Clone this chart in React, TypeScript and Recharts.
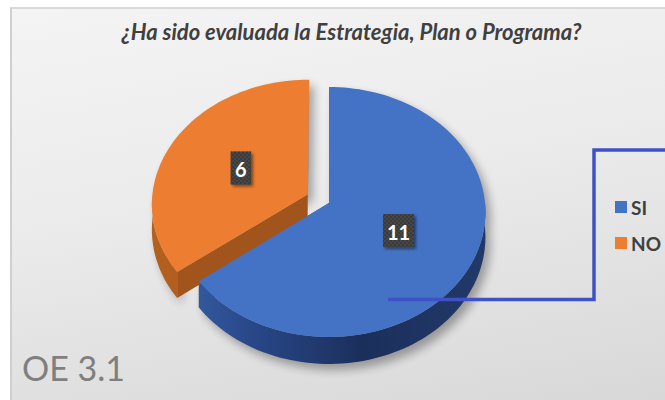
import React from 'react';
import { PieChart, Pie, Cell, Legend } from 'recharts';

const categories = ['SI', 'NO'];
const values = [11, 6];
const colors = ['#4472C4', '#ED7D31'];
const wallFills = ['url(#wallBlue)', 'url(#wallOrange)'];
const faceFills = ['#2b4a86', '#a2541d'];
const explode = [0, 24];
const title = '¿Ha sido evaluada la Estrategia, Plan o Programa?';
const note = 'OE 3.1';

const data = categories.map((name, i) => ({ name, value: values[i] }));

const EPS = 0.072;
const KY = 0.797;
const DEPTH = 25;
const RAD = Math.PI / 180;

function proj(cx: number, cy: number, R: number, u: number, v: number) {
  const s = 1 / (1 + (EPS * v) / R);
  return [cx + u * s, cy - KY * v * s, s];
}

function idxOf(p: any) {
  const n = p.name ?? (p.payload && p.payload.name);
  const i = categories.indexOf(n);
  return i < 0 ? (p.index ?? 0) : i;
}

function geom(p: any) {
  const { cx, cy, outerRadius: R, startAngle, endAngle } = p;
  const mid = p.midAngle ?? (startAngle + endAngle) / 2;
  const i = idxOf(p);
  const d = explode[i] || 0;
  const ou = d * Math.cos(mid * RAD);
  const ov = d * Math.sin(mid * RAD);
  const pt = (a: number, r: number = R) =>
    proj(cx, cy, R, ou + r * Math.cos(a * RAD), ov + r * Math.sin(a * RAD));
  const arc = (a1: number, a2: number) => {
    const n = Math.max(2, Math.ceil(Math.abs(a2 - a1) / 2));
    const out: number[][] = [];
    for (let k = 0; k <= n; k++) out.push(pt(a1 + ((a2 - a1) * k) / n));
    return out;
  };
  const vtx = pt(0, 0);
  const top = [vtx, ...arc(startAngle, endAngle)];
  const lo = Math.min(startAngle, endAngle);
  const hi = Math.max(startAngle, endAngle);
  const walls: number[][][] = [];
  for (let k = -2; k <= 1; k++) {
    const a1 = Math.max(lo, -180 + 360 * k);
    const a2 = Math.min(hi, 360 * k);
    if (a2 > a1) {
      const t = arc(a1, a2);
      const b = t.map(([x, y, s]) => [x, y + DEPTH * s, s]).reverse();
      walls.push([...t, ...b]);
    }
  }
  const faces: number[][][] = [startAngle, endAngle].map((a) => {
    const e = pt(a);
    return [vtx, e, [e[0], e[1] + DEPTH * e[2]], [vtx[0], vtx[1] + DEPTH * vtx[2]]];
  });
  return { top, walls, faces, i };
}

const toPath = (pts: number[][]) =>
  'M' + pts.map(([x, y]) => `${x.toFixed(2)},${y.toFixed(2)}`).join('L') + 'Z';

const ShadowShape = (p: any) => {
  const g = geom(p);
  return (
    <g transform="translate(5,6)" opacity={0.32} filter="url(#blurShadow)">
      <path d={toPath(g.top)} fill="#000" />
      {g.walls.map((w, k) => (
        <path key={k} d={toPath(w)} fill="#000" />
      ))}
    </g>
  );
};

const WallShape = (p: any) => {
  const g = geom(p);
  return (
    <g>
      {g.faces.map((f, k) => (
        <path key={'f' + k} d={toPath(f)} fill={faceFills[g.i]} />
      ))}
      {g.walls.map((w, k) => (
        <path key={'w' + k} d={toPath(w)} fill={wallFills[g.i]} />
      ))}
    </g>
  );
};

const TopShape = (p: any) => {
  const g = geom(p);
  return <path d={toPath(g.top)} fill={colors[g.i]} />;
};

const renderLabel = (p: any) => {
  const i = idxOf(p);
  const { cx, cy, outerRadius: R } = p;
  const mid = p.midAngle ?? (p.startAngle + p.endAngle) / 2;
  const r = (explode[i] || 0) + R * 0.49;
  const [x, y] = proj(cx, cy, R, r * Math.cos(mid * RAD), r * Math.sin(mid * RAD));
  const txt = String(values[i]);
  const w = 10 + txt.length * 10.5;
  const h = 33;
  return (
    <g key={'lab' + i}>
      <rect x={x - w / 2} y={y - h / 2} width={w} height={h} fill="#3b3b3b" filter="url(#boxShadow)" />
      <rect x={x - w / 2} y={y - h / 2} width={w} height={h} fill="url(#checker)" />
      <text
        x={x}
        y={y + 1}
        textAnchor="middle"
        dominantBaseline="central"
        fill="#ffffff"
        fontFamily="Lato, sans-serif"
        fontWeight={700}
        fontSize={20}
      >
        {txt}
      </text>
    </g>
  );
};

const LegendContent = () => (
  <div style={{ fontFamily: 'Lato, sans-serif', fontWeight: 700, fontSize: 19, color: '#404040' }}>
    {categories.map((c, i) => (
      <div key={c} style={{ display: 'flex', alignItems: 'center', height: 36 }}>
        <span style={{ display: 'inline-block', width: 12, height: 12, background: colors[i], marginRight: 4 }} />
        <span>{c}</span>
      </div>
    ))}
  </div>
);

export default function App() {
  const CX = 329;
  const CY = 203;
  const R = 156;
  return (
    <div style={{ position: 'absolute', left: 0, top: 0, width: 665, height: 400, background: '#ffffff', overflow: 'hidden' }}>
      <div
        style={{
          position: 'absolute',
          left: 10,
          top: 7,
          width: 655,
          height: 393,
          boxSizing: 'border-box',
          borderTop: '2px solid #d9d9d9',
          borderLeft: '2px solid #cfcfcf',
          background: 'linear-gradient(170deg, #f4f4f4 0%, #ebebeb 45%, #d8d8d8 100%)',
        }}
      />
      <svg width={0} height={0} style={{ position: 'absolute' }}>
        <defs>
          <linearGradient id="wallBlue" gradientUnits="userSpaceOnUse" x1={170} y1={0} x2={490} y2={0}>
            <stop offset="0" stopColor="#3a5fa6" />
            <stop offset="0.25" stopColor="#29488a" />
            <stop offset="0.6" stopColor="#1b2f5b" />
            <stop offset="1" stopColor="#22396a" />
          </linearGradient>
          <linearGradient id="wallOrange" gradientUnits="userSpaceOnUse" x1={150} y1={0} x2={320} y2={0}>
            <stop offset="0" stopColor="#b4601f" />
            <stop offset="1" stopColor="#a0521b" />
          </linearGradient>
          <filter id="blurShadow" x="-20%" y="-20%" width="140%" height="140%">
            <feGaussianBlur stdDeviation="5" />
          </filter>
          <filter id="boxShadow" x="-30%" y="-30%" width="160%" height="160%">
            <feDropShadow dx="2" dy="2" stdDeviation="1.5" floodColor="#000" floodOpacity="0.45" />
          </filter>
          <pattern id="checker" width="4" height="4" patternUnits="userSpaceOnUse">
            <rect x="0" y="0" width="2" height="2" fill="#474747" />
            <rect x="2" y="2" width="2" height="2" fill="#474747" />
          </pattern>
        </defs>
      </svg>
      <div style={{ position: 'absolute', left: 0, top: 0 }}>
        <PieChart width={665} height={400} margin={{ top: 0, right: 0, bottom: 0, left: 0 }}>
          <Pie
            data={data}
            dataKey="value"
            nameKey="name"
            cx={CX}
            cy={CY}
            outerRadius={R}
            startAngle={90}
            endAngle={-270}
            stroke="none"
            isAnimationActive={false}
            legendType="none"
            shape={ShadowShape}
            activeShape={ShadowShape}
            inactiveShape={ShadowShape}
          >
            {data.map((d, i) => (
              <Cell key={d.name} fill={colors[i]} />
            ))}
          </Pie>
          <Pie
            data={data}
            dataKey="value"
            nameKey="name"
            cx={CX}
            cy={CY}
            outerRadius={R}
            startAngle={90}
            endAngle={-270}
            stroke="none"
            isAnimationActive={false}
            legendType="none"
            shape={WallShape}
            activeShape={WallShape}
            inactiveShape={WallShape}
          >
            {data.map((d, i) => (
              <Cell key={d.name} fill={colors[i]} />
            ))}
          </Pie>
          <Pie
            data={data}
            dataKey="value"
            nameKey="name"
            cx={CX}
            cy={CY}
            outerRadius={R}
            startAngle={90}
            endAngle={-270}
            stroke="none"
            isAnimationActive={false}
            shape={TopShape}
            activeShape={TopShape}
            inactiveShape={TopShape}
            label={renderLabel}
            labelLine={false}
          >
            {data.map((d, i) => (
              <Cell key={d.name} fill={colors[i]} />
            ))}
          </Pie>
          <Legend
            layout="vertical"
            align="right"
            verticalAlign="top"
            wrapperStyle={{ left: 615, top: 189, width: 50 }}
            content={LegendContent}
          />
        </PieChart>
      </div>
      <svg width={665} height={400} style={{ position: 'absolute', left: 0, top: 0, pointerEvents: 'none' }}>
        <text
          x={351.5}
          y={40}
          textAnchor="middle"
          fill="#404040"
          fontFamily="Lato, sans-serif"
          fontWeight={700}
          fontStyle="italic"
          fontSize={22}
        >
          {title}
        </text>
        <text x={22} y={381} fill="#7f7f7f" fontFamily="Lato, sans-serif" fontSize={34}>
          {note}
        </text>
        <polyline
          points="388,299.5 594,299.5 594,150 668,150"
          fill="none"
          stroke="#3f51c6"
          strokeWidth={3.5}
        />
      </svg>
    </div>
  );
}
